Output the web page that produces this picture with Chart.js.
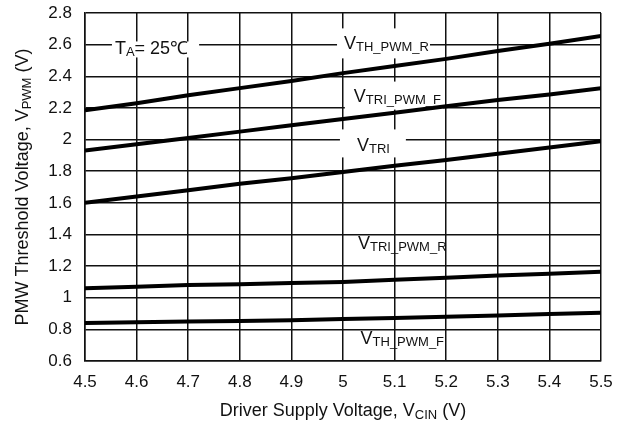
<!DOCTYPE html>
<html>
<head>
<meta charset="utf-8">
<script src="https://cdn.jsdelivr.net/npm/chart.js@4.4.1/dist/chart.umd.min.js"></script>
<style>
  html, body { margin: 0; padding: 0; background: #fff; }
  canvas { display: block; }
</style>
</head>
<body>
<canvas id="pwmChart" width="628" height="421"></canvas>
<script>
const FONT = '"Liberation Sans", Arial, Helvetica, sans-serif';

// supply voltage sweep (V)
const supplyVoltage = [4.5, 4.6, 4.7, 4.8, 4.9, 5.0, 5.1, 5.2, 5.3, 5.4, 5.5];

// threshold voltages (V)
const vthPwmR   = [2.185, 2.23, 2.28, 2.325, 2.37, 2.42, 2.465, 2.51, 2.56, 2.605, 2.655];
const vtriPwmF  = [1.93, 1.97, 2.01, 2.05, 2.09, 2.13, 2.17, 2.21, 2.25, 2.285, 2.325];
const vtri      = [1.60, 1.64, 1.68, 1.72, 1.755, 1.795, 1.835, 1.87, 1.91, 1.95, 1.99];
const vtriPwmR  = [1.06, 1.07, 1.08, 1.085, 1.093, 1.10, 1.114, 1.127, 1.14, 1.152, 1.165];
const vthPwmF   = [0.84, 0.845, 0.85, 0.853, 0.857, 0.865, 0.872, 0.88, 0.888, 0.897, 0.905];

const xTicks = [4.5, 4.6, 4.7, 4.8, 4.9, 5.0, 5.1, 5.2, 5.3, 5.4, 5.5];
const xTickLabels = ["4.5", "4.6", "4.7", "4.8", "4.9", "5", "5.1", "5.2", "5.3", "5.4", "5.5"];
const yTicks = [0.6, 0.8, 1.0, 1.2, 1.4, 1.6, 1.8, 2.0, 2.2, 2.4, 2.6, 2.8];
const yTickLabels = ["0.6", "0.8", "1", "1.2", "1.4", "1.6", "1.8", "2", "2.2", "2.4", "2.6", "2.8"];

// curve labels: anchor is left edge / baseline in data units, box = [left, right, top, bottom] px
const curveLabels = [
  { main: "T", sub: "A", tail: "= 25\u2103", x: 4.558, y: 2.538, box: [3, 11, 13, 3] },
  { main: "V", sub: "TH_PWM_R", tail: "", x: 5.002, y: 2.57, box: [7, 1, 21, 9] },
  { main: "V", sub: "TRI_PWM_F", tail: "", x: 5.021, y: 2.24, box: [9, 2, 20, 8] },
  { main: "V", sub: "TRI", tail: "", x: 5.027, y: 1.925, box: [17, 16, 22, 6] },
  { main: "V", sub: "TRI_PWM_R", tail: "", x: 5.029, y: 1.31, box: null },
  { main: "V", sub: "TH_PWM_F", tail: "", x: 5.034, y: 0.705, box: null }
];

function measureSubText(ctx, main, sub, tail, size, subSize) {
  ctx.font = size + 'px ' + FONT;
  const w = ctx.measureText(main).width + ctx.measureText(tail).width;
  ctx.font = subSize + 'px ' + FONT;
  return w + ctx.measureText(sub).width;
}

function drawSubText(ctx, x, y, main, sub, tail, size, subSize, drop) {
  ctx.font = size + 'px ' + FONT;
  const w1 = ctx.measureText(main).width;
  ctx.fillText(main, x, y);
  ctx.font = subSize + 'px ' + FONT;
  const w2 = ctx.measureText(sub).width;
  ctx.fillText(sub, x + w1, y + drop);
  ctx.font = size + 'px ' + FONT;
  ctx.fillText(tail, x + w1 + w2, y);
}

const labelPlugin = {
  id: 'curveLabels',
  beforeDatasetsDraw(chart) {
    const { ctx, scales: { x, y } } = chart;
    ctx.save();
    ctx.fillStyle = '#fff';
    curveLabels.forEach(l => {
      if (!l.box) return;
      const px = x.getPixelForValue(l.x);
      const py = y.getPixelForValue(l.y);
      const w = measureSubText(ctx, l.main, l.sub, l.tail, 18, 13);
      ctx.fillRect(px - l.box[0], py - l.box[2], w + l.box[0] + l.box[1], l.box[2] + l.box[3]);
    });
    ctx.restore();
  },
  afterDatasetsDraw(chart) {
    const { ctx, chartArea: area, scales: { x, y } } = chart;
    ctx.save();
    ctx.fillStyle = '#111';
    ctx.textBaseline = 'alphabetic';
    ctx.textAlign = 'left';
    curveLabels.forEach(l => {
      const px = x.getPixelForValue(l.x);
      const py = y.getPixelForValue(l.y);
      drawSubText(ctx, px, py, l.main, l.sub, l.tail, 18, 13, 2);
    });

    // axis titles
    let w = measureSubText(ctx, 'Driver Supply Voltage, V', 'CIN', ' (V)', 18, 13);
    drawSubText(ctx, (area.left + area.right) / 2 - w / 2, 416, 'Driver Supply Voltage, V', 'CIN', ' (V)', 18, 13, 3);

    w = measureSubText(ctx, 'PMW Threshold Voltage, V', 'PWM', ' (V)', 18, 13);
    ctx.translate(28, (area.top + area.bottom) / 2);
    ctx.rotate(-Math.PI / 2);
    drawSubText(ctx, -w / 2, 0, 'PMW Threshold Voltage, V', 'PWM', ' (V)', 18, 13, 3);
    ctx.restore();
  }
};

function series(values) {
  return {
    data: supplyVoltage.map((v, i) => ({ x: v, y: values[i] })),
    borderColor: '#000',
    borderWidth: 4,
    pointRadius: 0,
    tension: 0,
    fill: false
  };
}

const gridStyle = { color: '#111', lineWidth: 1.5, drawTicks: false };

new Chart(document.getElementById('pwmChart'), {
  type: 'line',
  data: {
    datasets: [series(vthPwmR), series(vtriPwmF), series(vtri), series(vtriPwmR), series(vthPwmF)]
  },
  options: {
    responsive: false,
    animation: false,
    events: [],
    layout: { padding: { left: 0, right: 27, top: 13, bottom: 0 } },
    plugins: { legend: { display: false }, tooltip: { enabled: false } },
    scales: {
      x: {
        type: 'linear',
        min: 4.5,
        max: 5.5,
        grid: gridStyle,
        border: { color: '#111', width: 1.5 },
        afterBuildTicks: axis => { axis.ticks = xTicks.map(v => ({ value: v })); },
        afterFit: axis => {
          axis.height = 60;
          axis.paddingLeft = 0;
          axis.paddingRight = 0;
        },
        ticks: {
          autoSkip: false,
          maxRotation: 0,
          padding: 11,
          color: '#111',
          font: { family: FONT, size: 17 },
          callback: (value, index) => xTickLabels[index]
        }
      },
      y: {
        type: 'linear',
        min: 0.6,
        max: 2.8,
        grid: gridStyle,
        border: { color: '#111', width: 1.5 },
        afterBuildTicks: axis => { axis.ticks = yTicks.map(v => ({ value: v })); },
        afterFit: axis => {
          axis.width = 85;
          axis.paddingTop = 0;
          axis.paddingBottom = 0;
        },
        ticks: {
          autoSkip: false,
          padding: 13,
          color: '#111',
          font: { family: FONT, size: 17 },
          callback: (value, index) => yTickLabels[index]
        }
      }
    }
  },
  plugins: [labelPlugin]
});
</script>
</body>
</html>
